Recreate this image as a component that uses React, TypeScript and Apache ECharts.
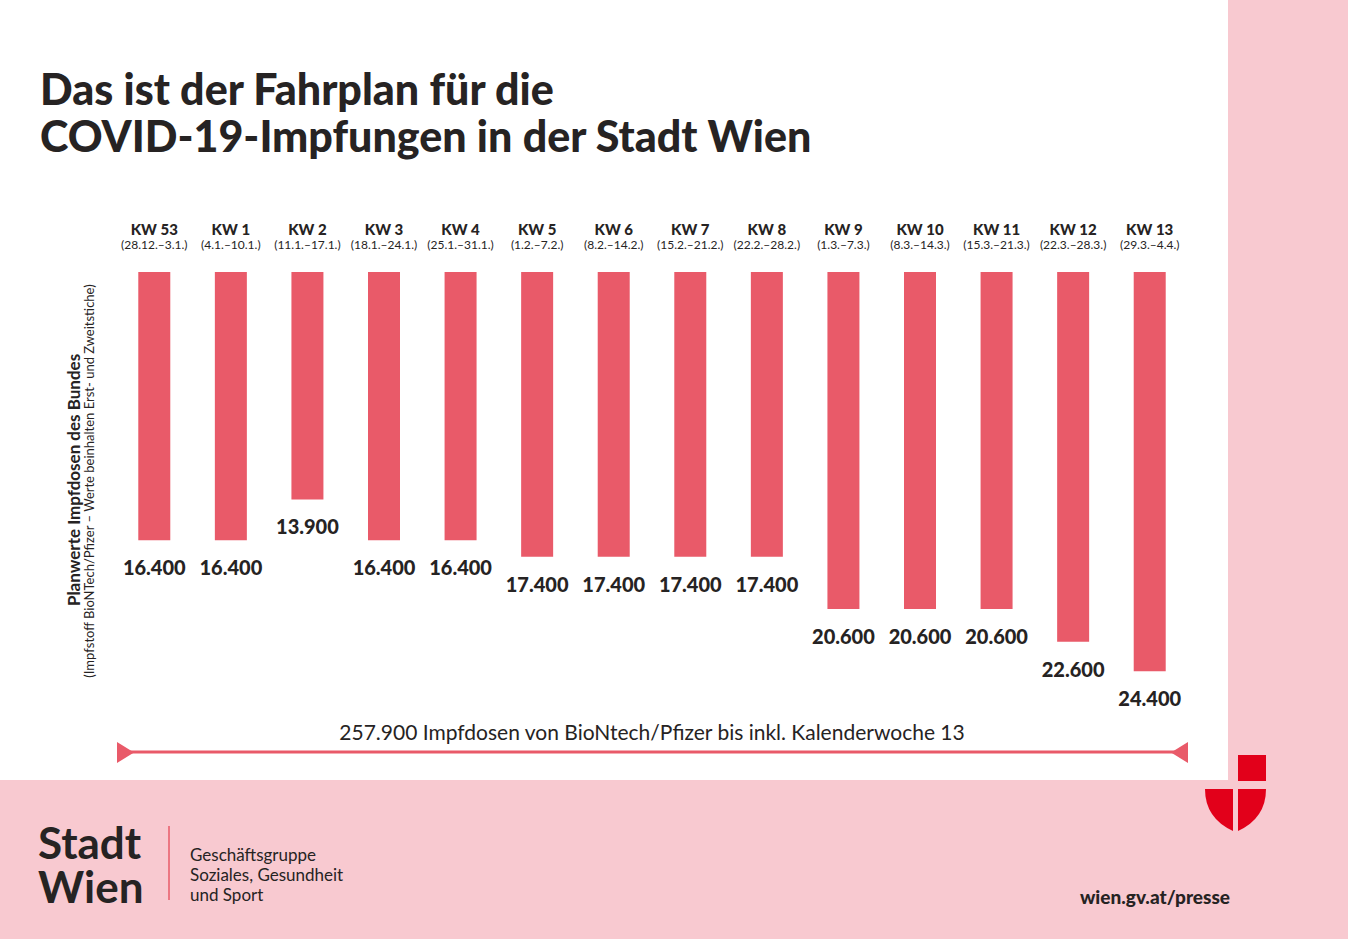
import React, { useEffect, useRef } from "react";
import * as echarts from "echarts";

const weeks = ["KW 53", "KW 1", "KW 2", "KW 3", "KW 4", "KW 5", "KW 6", "KW 7", "KW 8", "KW 9", "KW 10", "KW 11", "KW 12", "KW 13"];
const dates = ["(28.12.–3.1.)", "(4.1.–10.1.)", "(11.1.–17.1.)", "(18.1.–24.1.)", "(25.1.–31.1.)", "(1.2.–7.2.)", "(8.2.–14.2.)", "(15.2.–21.2.)", "(22.2.–28.2.)", "(1.3.–7.3.)", "(8.3.–14.3.)", "(15.3.–21.3.)", "(22.3.–28.3.)", "(29.3.–4.4.)"];
const doses = [16400, 16400, 13900, 16400, 16400, 17400, 17400, 17400, 17400, 20600, 20600, 20600, 22600, 24400];

const titleLines = ["Das ist der Fahrplan für die", "COVID-19-Impfungen in der Stadt Wien"];
const yTitle = "Planwerte Impfdosen des Bundes";
const ySubTitle = "(Impfstoff BioNTech/Pfizer – Werte beinhalten Erst- und Zweitstiche)";
const summary = "257.900 Impfdosen von BioNtech/Pfizer bis inkl. Kalenderwoche 13";
const footerDept = ["Geschäftsgruppe", "Soziales, Gesundheit", "und Sport"];

const BAR = "#e95a69";
const PINK = "#f8c9d0";
const DARK = "#262323";
const FONT = "Lato, 'Open Sans', sans-serif";

function fmt(v: number): string {
  return String(v).replace(/\B(?=(\d{3})+(?!\d))/g, ".");
}

echarts.graphic.registerShape(
  "shieldLeft",
  echarts.graphic.extendPath("M1205 789 L1233 789 L1233 831 Q1205 818 1205 789 Z", {})
);
echarts.graphic.registerShape(
  "shieldRight",
  echarts.graphic.extendPath("M1266 789 Q1266 818 1238 831 L1238 789 Z", {})
);

export default function App() {
  const ref = useRef<HTMLDivElement>(null);
  useEffect(() => {
    document.body.style.margin = "0";
    const chart = echarts.init(ref.current!, null, { renderer: "svg" });
    chart.setOption({
      animation: false,
      backgroundColor: PINK,
      grid: { left: 116, right: 160, top: 272, height: 409 },
      xAxis: {
        type: "category",
        position: "top",
        data: weeks.map((w, i) => w + "|" + dates[i]),
        axisLine: { show: false },
        axisTick: { show: false },
        axisLabel: {
          interval: 0,
          margin: 21,
          formatter: (v: string) => {
            const [w, d] = v.split("|");
            return "{a|" + w + "}\n{b|" + d + "}";
          },
          rich: {
            a: { fontFamily: FONT, fontWeight: 900, fontSize: 15, color: DARK, lineHeight: 17, align: "center" },
            b: { fontFamily: FONT, fontSize: 12, color: DARK, lineHeight: 14, align: "center" },
          },
        },
      },
      yAxis: {
        type: "value",
        inverse: true,
        min: 0,
        max: 25000,
        show: false,
        splitLine: { show: false },
      },
      series: [
        {
          type: "bar",
          data: doses,
          barWidth: 32,
          itemStyle: { color: BAR },
          label: {
            show: true,
            position: "bottom",
            distance: 17,
            fontFamily: FONT,
            fontWeight: 900,
            fontSize: 20,
            color: DARK,
            formatter: (p: any) => fmt(p.value),
          },
        },
      ],
      graphic: [
        { type: "rect", z: -100, shape: { x: 0, y: 0, width: 1228, height: 780 }, style: { fill: "#ffffff" } },
        {
          type: "text", x: 40, y: 88,
          style: { text: titleLines[0], font: "900 43px " + FONT, fill: DARK, textVerticalAlign: "middle" },
        },
        {
          type: "text", x: 40, y: 135,
          style: { text: titleLines[1], font: "900 43px " + FONT, fill: DARK, textVerticalAlign: "middle" },
        },
        {
          type: "text", x: 73.5, y: 480, rotation: Math.PI / 2,
          style: { text: yTitle, font: "bold 17px " + FONT, fill: DARK, textAlign: "center", textVerticalAlign: "middle" },
        },
        {
          type: "text", x: 89, y: 481, rotation: Math.PI / 2,
          style: { text: ySubTitle, font: "13px " + FONT, fill: DARK, textAlign: "center", textVerticalAlign: "middle" },
        },
        {
          type: "text", x: 652, y: 731,
          style: { text: summary, font: "21px " + FONT, fill: DARK, textAlign: "center", textVerticalAlign: "middle" },
        },
        { type: "line", shape: { x1: 120, y1: 752, x2: 1185, y2: 752 }, style: { stroke: BAR, lineWidth: 3 } },
        { type: "polygon", shape: { points: [[117, 742], [117, 763], [134, 752.5]] }, style: { fill: BAR } },
        { type: "polygon", shape: { points: [[1188, 742], [1188, 763], [1171, 752.5]] }, style: { fill: BAR } },
        { type: "rect", shape: { x: 1238, y: 755, width: 28, height: 26 }, style: { fill: "#e2001a" } },
        { type: "shieldLeft", x: 0, y: 0, style: { fill: "#e2001a" } },
        { type: "shieldRight", x: 0, y: 0, style: { fill: "#e2001a" } },
        {
          type: "text", x: 38, y: 864,
          style: { text: "Stadt\nWien", font: "bold 44px " + FONT, lineHeight: 44, fill: DARK, textVerticalAlign: "middle" },
        },
        { type: "line", shape: { x1: 169, y1: 826, x2: 169, y2: 900 }, style: { stroke: BAR, lineWidth: 1.5 } },
        {
          type: "text", x: 190, y: 874,
          style: { text: footerDept.join("\n"), font: "17px " + FONT, lineHeight: 20, fill: DARK, textVerticalAlign: "middle" },
        },
        {
          type: "text", x: 1230, y: 896,
          style: { text: "wien.gv.at/presse", font: "900 19px " + FONT, fill: DARK, textAlign: "right", textVerticalAlign: "middle" },
        },
      ],
    });
    return () => chart.dispose();
  }, []);
  return <div ref={ref} style={{ width: 1348, height: 939 }} />;
}
